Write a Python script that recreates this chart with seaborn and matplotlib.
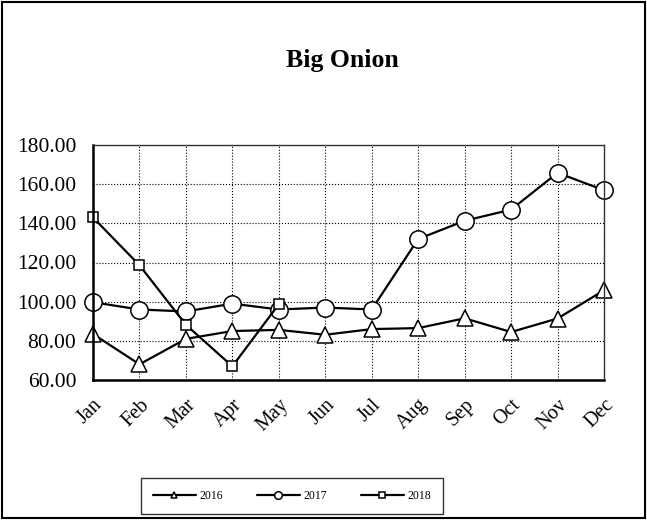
import pandas as pd
import matplotlib.pyplot as plt
import seaborn as sns
from matplotlib.lines import Line2D
from matplotlib.patches import Rectangle

months = ["Jan", "Feb", "Mar", "Apr", "May", "Jun", "Jul", "Aug", "Sep", "Oct", "Nov", "Dec"]
price_2016 = [83.5, 68.0, 81.0, 85.0, 85.6, 83.1, 86.0, 86.5, 91.5, 84.5, 91.4, 105.8]
price_2017 = [99.7, 96.0, 95.0, 99.0, 96.0, 97.0, 96.0, 132.0, 141.3, 147.0, 165.8, 156.9]
price_2018 = [143.0, 118.6, 88.2, 67.0, 98.7]

sns.set_style("white")
plt.rcParams["font.family"] = ["Liberation Serif", "DejaVu Serif"]
plt.rcParams["text.color"] = "black"
plt.rcParams["xtick.color"] = "black"
plt.rcParams["ytick.color"] = "black"

fig = plt.figure(figsize=(6.47, 5.20), dpi=100)
ax = fig.add_axes([93 / 647, 1 - 380 / 520, (604 - 93) / 647, (380 - 145) / 520])

line_kw = dict(color="black", linewidth=1.6, markerfacecolor="white",
               markeredgecolor="black", markeredgewidth=1.1)
sns.lineplot(x=months, y=price_2016, marker="^", markersize=11, ax=ax, clip_on=False, **line_kw)
sns.lineplot(x=months, y=price_2017, marker="o", markersize=12.5, ax=ax, clip_on=False, **line_kw)
sns.lineplot(x=months[:len(price_2018)], y=price_2018, marker="s", markersize=7.5, ax=ax,
             clip_on=False, **line_kw)

ax.set_xlim(0, 11)
ax.set_ylim(60, 180)
ax.set_yticks(range(60, 181, 20))
ax.set_yticklabels([f"{v:.2f}" for v in range(60, 181, 20)], fontsize=15.5, color="black")
ax.set_xticks(range(12))
ax.set_xticklabels(months, rotation=45, fontsize=14.5, ha="right", rotation_mode="anchor",
                   color="black")
ax.grid(True, color="black", linestyle=":", linewidth=0.8)
ax.set_axisbelow(True)

for side in ["top", "right"]:
    ax.spines[side].set_linewidth(1.0)
    ax.spines[side].set_color("#333333")
for side in ["left", "bottom"]:
    ax.spines[side].set_linewidth(1.8)
    ax.spines[side].set_color("black")
ax.tick_params(axis="y", direction="out", length=7, width=1.2, color="black", pad=5)
ax.tick_params(axis="x", direction="inout", length=8, width=1.2, color="black", pad=7)

fig.text(342 / 647, 1 - 60 / 520, "Big Onion", ha="center", va="center",
         fontsize=18.5, fontweight="bold", color="black")

handles = [
    Line2D([], [], marker="^", markersize=5, label="2016", **line_kw),
    Line2D([], [], marker="o", markersize=5.5, label="2017", **line_kw),
    Line2D([], [], marker="s", markersize=5, label="2018", **line_kw),
]
leg = fig.legend(handles=handles, ncol=3, loc="center",
                 bbox_to_anchor=(292 / 647, 1 - 496 / 520), fontsize=8.5,
                 frameon=True, fancybox=False, edgecolor="black",
                 handlelength=3.6, handletextpad=0.3, columnspacing=2.9,
                 borderpad=1.0, borderaxespad=0)
leg.get_frame().set_linewidth(1.0)
for t in leg.get_texts():
    t.set_color("black")

fig.patches.append(Rectangle((2 / 647, 2 / 520), 643 / 647, 516 / 520,
                             transform=fig.transFigure, fill=False,
                             edgecolor="black", linewidth=1.5))

fig.savefig("out.png", dpi=100)
